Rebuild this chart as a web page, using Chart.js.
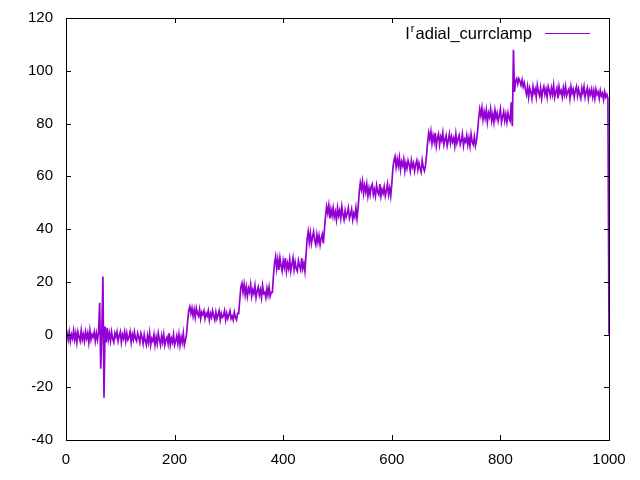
<!DOCTYPE html>
<html>
<head>
<meta charset="utf-8">
<script src="https://cdn.jsdelivr.net/npm/chart.js@4/dist/chart.umd.min.js"></script>
<style>
html,body{margin:0;padding:0;background:#fff;}
#wrap{width:640px;height:480px;}
</style>
</head>
<body>
<div id="wrap"><canvas id="c" width="640" height="480"></canvas></div>
<script>
// sample spacing of the trace (x units)
const timeStep = 2;
const seriesLabel = "I_radial_currclamp";
const xTicks = [0, 200, 400, 600, 800, 1000];
const yTicks = [-40, -20, 0, 20, 40, 60, 80, 100, 120];

// trace values, in time order, grouped by plateau
const baseline0 = [-1, 0.5, -2, 1, -2.5, 0, -1.5, 1.5, -2, 0.5, -3, 1, -1, -2.5, 1.5, -2, 0, -2.5, 1, -1.5, 0.5, -3, 1.5, -2, 0, -1, 1, -2.5, 0.5, -2, 1];
const spikes = [12, -13, 1, 22, -24, 3, -3, 2.5, -2];
const baseline1 = [0.5, -2.5, 1, -1.5, -3, 0.5, -1, 1, -2.5, -0.5, 1, -3, 0, -1.5, 1, -2.5, 0.5, -2, -1, 1, -3, 0, -2, 1, -1.5, -2.5, 0.5, -1, -3, 0.5];
const baseline2 = [-1, -3.5, 0, -2.5, -4, -0.5, -3, 0.5, -4, -1.5, -2.5, 0, -4, -1, -3.5, 0.5, -2, -4, -0.5, -3, 0, -4, -2, -1, -3.5, 0.5, -4, -1.5, -3, 0, -4, -2.5, -0.5, -3.5, 0, -4, -1, -3, 0.5, -4, -2];
const step8 = [0, 5, 9, 10.5, 8, 10, 7, 9.5, 6.5, 10, 8, 7, 9.5, 6, 8.5, 7.5, 9, 6, 8, 7, 9, 5.5, 8, 6.5, 9, 7, 5.5, 8.5, 6, 7.5, 9, 5.5, 8, 6.5, 7, 9, 5.5, 8, 6, 7.5, 9, 6, 7, 5.5, 8.5, 6.5, 5.5, 8];
const step17 = [8, 13, 18, 19.5, 16, 19, 15, 18, 14.5, 17.5, 16, 19, 14.5, 17, 15.5, 18.5, 14, 16.5, 18, 15, 17, 14, 18.5, 15.5, 16, 14, 17.5, 15, 18, 14.5, 16];
const step27 = [16, 22, 27, 29.5, 25, 28.5, 24.5, 29, 26, 24, 28, 25.5, 29, 24, 27, 25, 28.5, 24, 26.5, 29, 24.5, 27.5, 25, 24, 28, 26, 24.5, 29, 25, 27, 24];
const step37 = [30, 36, 39, 35, 38.5, 34.5, 37, 39, 35.5, 34, 38, 35, 37.5, 34, 36.5, 38, 34.5];
const step46 = [40, 45, 48.5, 46, 49, 44, 47.5, 45, 48, 44.5, 46.5, 43.5, 48, 45, 47, 44, 48.5, 45.5, 43.5, 47, 44.5, 46, 48, 44, 45.5, 47.5, 43.5, 46, 44.5, 48, 44];
const step55 = [48, 54, 57.5, 55, 58, 53.5, 56.5, 54, 57, 52.5, 55.5, 53, 56, 57, 53, 55, 52.5, 56.5, 54, 53, 57, 52.5, 55, 53.5, 56, 52.5, 54.5, 57, 53, 55.5, 52.5];
const step65 = [57, 63, 66, 67.5, 63.5, 66.5, 64, 67, 62.5, 65.5, 64, 66.5, 62, 65, 63, 66, 64.5, 62, 66, 63.5, 65, 62, 64.5, 66, 62.5, 65, 63, 61.5, 66, 63.5, 62, 64];
const step74 = [68, 73, 76.5, 74, 77, 72.5, 75.5, 73, 76.5, 71.5, 74.5, 76, 72, 75, 73.5, 76.5, 72, 74, 75.5, 71.5, 73.5, 76, 72.5, 75, 73, 74.5, 71.5, 76, 72.5, 74, 75.5, 72, 73.5, 76, 71.5, 74, 73, 75.5, 72, 74.5, 71.5, 76, 73, 72, 75, 71.5, 73.5];
const step84 = [77, 82, 85.5, 83, 86, 81.5, 84.5, 82, 85, 80.5, 84, 82.5, 85.5, 81, 83.5, 80.5, 85, 82, 84, 81, 83, 85.5, 80.5, 82.5, 84.5, 81, 83.5, 80.5, 84, 82, 81];
const step92 = [88, 79, 108, 92, 96, 97, 95, 97, 96, 94.5, 96.5, 94, 95.5, 93,
  91, 94, 90, 93.5, 92, 89.5, 94, 91.5, 93, 90, 94.5, 92, 90.5, 93.5, 89.5, 92.5, 94, 91, 93, 90,
  94, 92.5, 90.5, 93.5, 91, 94.5, 90, 92, 93.5, 89.5, 94, 91.5, 92.5, 90, 93.5, 91, 94, 90.5, 92, 93,
  89.5, 94, 91.5, 93, 90, 92.5, 94, 90.5, 93, 91, 89.5, 93.5, 91.5, 94, 90, 92, 93.5, 89.5, 92.5, 91,
  93, 90, 92.5, 89.5, 93, 91, 92, 89.5, 92.5, 90.5, 91.5, 89, 92, 90, 91, 89.5];
const tail = [0];

const traceValues = [].concat(baseline0, spikes, baseline1, baseline2, step8, step17, step27,
  step37, step46, step55, step65, step74, step84, step92, tail);
const points = traceValues.map((v, i) => ({x: i * timeStep, y: v}));

const FONT = '"Liberation Sans", Arial, sans-serif';
const LINE_COLOR = '#9400D3';
const TICK_LEN = 5;

const framePlugin = {
  id: 'frame',
  afterDraw(chart) {
    const ctx = chart.ctx;
    const a = chart.chartArea;
    const xs = chart.scales.x, ys = chart.scales.y;
    ctx.save();
    ctx.strokeStyle = '#000';
    ctx.lineWidth = 1;
    ctx.beginPath();
    yTicks.forEach(v => {
      const p = Math.round(ys.getPixelForValue(v)) + 0.5;
      ctx.moveTo(a.left, p); ctx.lineTo(a.left + TICK_LEN, p);
      ctx.moveTo(a.right, p); ctx.lineTo(a.right - TICK_LEN, p);
    });
    xTicks.forEach(v => {
      const p = Math.round(xs.getPixelForValue(v)) + 0.5;
      ctx.moveTo(p, a.bottom); ctx.lineTo(p, a.bottom - TICK_LEN);
      ctx.moveTo(p, a.top); ctx.lineTo(p, a.top + TICK_LEN);
    });
    ctx.stroke();
    ctx.strokeRect(Math.round(a.left) + 0.5, Math.round(a.top) + 0.5,
      Math.round(a.right - a.left), Math.round(a.bottom - a.top));

    // legend (gnuplot style: text, then line sample)
    const parts = seriesLabel.split('_');
    const head = parts[0];
    const sub = parts[1].charAt(0);
    const rest = parts[1].slice(1) + '_' + parts.slice(2).join('_');
    const big = '16.5px ' + FONT, small = '11px ' + FONT;
    const sampleRight = a.right - 19, sampleLeft = sampleRight - 45;
    const ly = a.top + 15;
    ctx.font = big;
    const wHead = ctx.measureText(head).width;
    const wRest = ctx.measureText(rest).width;
    ctx.font = small;
    const wSub = ctx.measureText(sub).width + 2;
    const textRight = sampleLeft - 13;
    let tx = textRight - wRest - wSub - wHead;
    ctx.fillStyle = '#000';
    ctx.textBaseline = 'alphabetic';
    ctx.textAlign = 'left';
    ctx.font = big;
    ctx.fillText(head, tx, ly + 6);
    tx += wHead + 1;
    ctx.font = small;
    ctx.fillText(sub, tx, ly - 1);
    tx += wSub - 1;
    ctx.font = big;
    ctx.fillText(rest, tx, ly + 6);
    ctx.strokeStyle = LINE_COLOR;
    ctx.lineWidth = 1.2;
    ctx.beginPath();
    ctx.moveTo(sampleLeft, Math.round(ly) + 0.5);
    ctx.lineTo(sampleRight, Math.round(ly) + 0.5);
    ctx.stroke();
    ctx.restore();
  }
};

new Chart(document.getElementById('c'), {
  type: 'line',
  data: {
    datasets: [{
      label: seriesLabel,
      data: points,
      borderColor: LINE_COLOR,
      borderWidth: 1.7,
      pointRadius: 0,
      tension: 0,
      fill: false
    }]
  },
  options: {
    responsive: false,
    animation: false,
    events: [],
    layout: {padding: {top: 18, right: 31, left: 0, bottom: 0}},
    plugins: {legend: {display: false}, tooltip: {enabled: false}},
    scales: {
      x: {
        type: 'linear', min: 0, max: 1000,
        afterFit(s) { s.height = 40; s.paddingLeft = 0; s.paddingRight = 0; },
        afterBuildTicks(s) { s.ticks = xTicks.map(v => ({value: v})); },
        grid: {display: false, drawTicks: false},
        border: {display: false},
        ticks: {color: '#000', font: {family: FONT, size: 15}, padding: 11, maxRotation: 0, autoSkip: false,
                callback: v => String(v)}
      },
      y: {
        type: 'linear', min: -40, max: 120,
        afterFit(s) { s.width = 66; s.paddingTop = 0; s.paddingBottom = 0; },
        afterBuildTicks(s) { s.ticks = yTicks.map(v => ({value: v})); },
        grid: {display: false, drawTicks: false},
        border: {display: false},
        ticks: {color: '#000', font: {family: FONT, size: 15}, padding: 13, autoSkip: false,
                callback: v => String(v)}
      }
    }
  },
  plugins: [framePlugin]
});
</script>
</body>
</html>
